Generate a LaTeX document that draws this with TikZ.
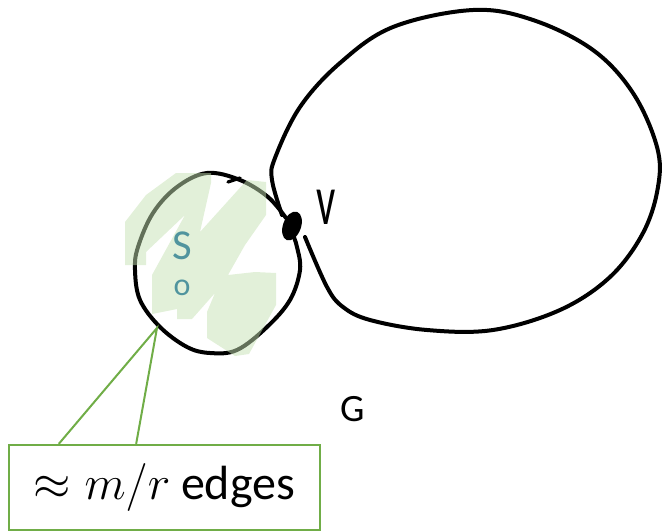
\RequirePackage{fix-cm}
\documentclass[tikz,border=0pt]{standalone}
\usepackage{fontspec}
\setmainfont{Carlito}
\definecolor{calloutgreen}{RGB}{112,173,71}
\definecolor{hilite}{RGB}{197,225,179}
\definecolor{inkteal}{RGB}{80,148,158}

\begin{document}
\begin{tikzpicture}[x=0.75pt, y=-0.75pt,
    stroke/.style={line width=3pt, line cap=round, line join=round},
    leader/.style={draw=calloutgreen, line width=1.5pt},
    note/.style={draw=calloutgreen, line width=1.5pt, fill=white, minimum width=233pt, minimum height=64pt, inner sep=0pt, font=\fontsize{36}{43}\selectfont}]
    \useasboundingbox (0,0) rectangle (662,532);

    % the big part of G
    \draw[stroke] plot[smooth, tension=0.6] coordinates {(282,215) (272,180) (275,158) (300,107) (340,63) (393,27) (473,10) (533,20) (593,50) (633,93) (657,147) (658,187) (643,233) (610,277) (560,310) (493,330) (427,330) (370,320) (343,307) (327,287) (305,237)};
    % the loop round S_0
    \draw[stroke] plot[smooth, tension=0.6] coordinates {(286,218) (268,197) (240,180) (207,173) (177,187) (153,213) (138,247) (135,270) (140,300) (160,327) (187,347) (210,353) (237,350) (267,327) (290,300) (300,270) (297,247) (293,235)};
    \draw[stroke, line width=2.4pt] (228,182) -- (240,178);

    % highlighter over S_0
    \fill[hilite, fill opacity=0.5] (125,265) -- (125,222) -- (146,195) -- (176,173) -- (211,173) -- (211,183) -- (200,232) -- (247,180) -- (266,182) -- (266,215) -- (245,245) -- (228,275) -- (255,272) -- (276,273) -- (276,305) -- (249,354) -- (235,356) -- (207,338) -- (207,312) -- (215,293) -- (192,319) -- (177,319) -- (177,309) -- (152,314) -- (152,275) -- (185,215) -- (146,252) -- (146,265) -- cycle;

    \node[text=inkteal, align=center, inner sep=0pt, font=\fontsize{32}{24}\selectfont] (s0) at (182,264) {S\\[3pt]{\fontsize{24}{20}\selectfont o}};

    % cut vertex
    \fill[rotate around={-20:(292,226)}] (292,226) ellipse [x radius=9, y radius=15];
    \node[inner sep=0pt, font=\fontsize{40}{48}\selectfont, xscale=0.8, yscale=1.35, transform shape] (v) at (326,207) {v};
    \node[inner sep=0pt, font=\fontsize{29}{34}\selectfont] (g) at (353,409) {G};

    % callout
    \node[note] (edges) at (164.5,487.5) {$\approx m/r$ edges};
    \coordinate (tip) at (157,328);
    \draw[leader] ([xshift=38pt]edges.north west) -- (tip) -- ([xshift=96pt]edges.north west);
  \end{tikzpicture}
\end{document}
